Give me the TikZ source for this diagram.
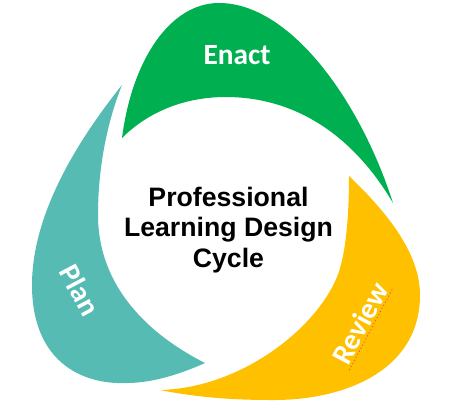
\documentclass[tikz,border=0pt]{standalone}
\usepackage{fontspec}
\setmainfont{Liberation Sans}
\newfontfamily\labelfont{Carlito}
\definecolor{enactgreen}{HTML}{00B050}
\definecolor{planteal}{HTML}{55BBB3}
\definecolor{reviewgold}{HTML}{FFC000}
\definecolor{spellred}{HTML}{E8503A}
\begin{document}
\begin{tikzpicture}[line join=round, line cap=round, x=0.75pt, y=-0.75pt,
	lbl/.style={text=white, inner sep=0pt, font=\labelfont\bfseries\fontsize{22}{26}\selectfont},
	hub/.style={align=center, inner sep=0pt, font=\bfseries\fontsize{20}{23}\selectfont}]
	\useasboundingbox (0,0) rectangle (451,412);
	% petals
	\fill[enactgreen] (122,138) .. controls (132,60) and (170,3) .. (219,3)
		.. controls (290,3) and (360,100) .. (393,203)
		.. controls (350,130) and (290,97) .. (226,97)
		.. controls (180,97) and (145,115) .. (122,138) -- cycle;
	\fill[planteal] (122,85) .. controls (70,150) and (32,220) .. (32,285)
		.. controls (32,360) and (80,385) .. (127,383)
		.. controls (155,383) and (185,372) .. (205,363)
		.. controls (140,330) and (98,280) .. (98,215)
		.. controls (98,160) and (110,115) .. (122,85) -- cycle;
	\fill[reviewgold] (349,176) .. controls (390,215) and (420,255) .. (420,295)
		.. controls (420,372) and (342,401) .. (270,400)
		.. controls (225,400) and (190,396) .. (160,390)
		.. controls (240,388) and (315,330) .. (337,277)
		.. controls (346,255) and (349,215) .. (349,176) -- cycle;
	% labels
	\node[lbl, anchor=base] (enact) at (237,64.5) {Enact};
	\node[lbl, rotate=-62] (plan) at (80,290) {Plan};
	\node[lbl, rotate=62, inner sep=1.5pt] (review) at (360,323) {Review};
	\draw[spellred, dotted, line width=0.6pt] (review.south west) -- (review.south east);
	\node[hub] (cycle) at (228.5,230) {Professional\\Learning Design\\Cycle};
\end{tikzpicture}
\end{document}
